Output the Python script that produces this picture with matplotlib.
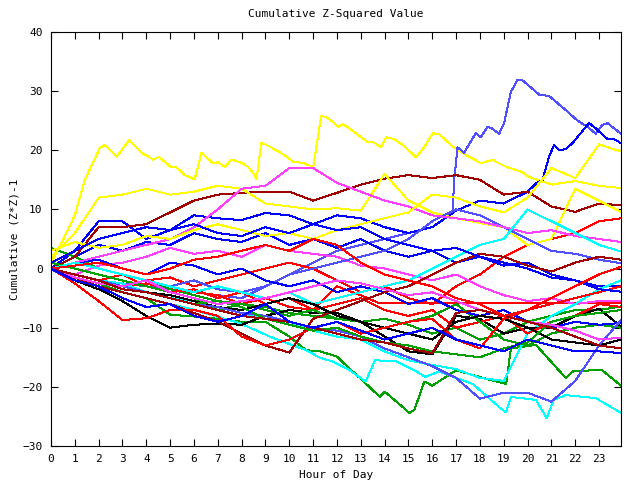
import matplotlib
matplotlib.use("Agg")
import matplotlib.pyplot as plt

# common hourly grid (last sample is 23:55)
hours = [0, 1, 2, 3, 4, 5, 6, 7, 8, 9, 10, 11, 12, 13, 14, 15, 16, 17, 18, 19, 20, 21, 22, 23, 23.92]

# traced lines with their own time stamps
yellow_a_h = [0, 0.5, 1, 1.42, 2.05, 2.26, 2.75, 3.28, 3.8, 4.29, 4.52, 5.05, 5.27, 5.61, 6.03, 6.31, 6.8, 7.0,
              7.29, 7.57, 7.92, 8.27, 8.55, 8.62, 8.83, 9.04, 9.32, 9.8, 10.15, 10.64, 11.0, 11.34, 11.55, 11.83,
              12.04, 12.25, 12.53, 12.88, 13.29, 13.57, 13.85, 14.06, 14.4, 14.76, 15.32, 15.67, 16.02, 16.3,
              16.86, 17.42, 18.04, 18.53, 19.09, 19.72, 20.07, 21.0, 22.0, 23.0, 23.92]
yellow_a_v = [1, 4.8, 9, 15, 20.4, 20.9, 18.9, 21.7, 19.6, 18.4, 18.9, 17.1, 17.1, 15.8, 15.1, 19.6, 17.8, 18,
              17.2, 18.4, 18.0, 17.2, 15.8, 15.1, 21.2, 20.9, 20.3, 19.2, 18.1, 17.8, 17.1, 25.8, 25.6, 24.8,
              24.0, 24.4, 23.7, 22.6, 21.4, 21.3, 20.5, 22.2, 21.9, 20.9, 18.8, 20.6, 22.9, 22.7,
              20.6, 19.2, 17.8, 18.4, 17.2, 16.4, 15.5, 14.2, 14.8, 14.0, 13.6]

lightblue_peak_h = [0, 2, 4, 6, 8, 10, 12, 14, 16, 16.85, 16.92, 17.06, 17.34, 17.83, 18.04, 18.32, 18.5, 18.81,
                    19.02, 19.3, 19.58, 19.8, 20.49, 20.9, 21.6, 22.1, 22.5, 22.86, 23.14, 23.35, 23.92]
lightblue_peak_v = [0, -2, -3, -4, -5, -1, 3, 5, 7, 9.4, 15, 20.5, 19.6, 22.9, 22.2, 24, 23.7, 22.8,
                    24.7, 29.9, 31.9, 31.8, 29.4, 29.2, 26.8, 25, 24, 22.8, 24.3, 24.6, 22.8]

blue_rise_h = [0, 1, 2, 3, 4, 5, 6, 7, 8, 9, 10, 11, 12, 13, 14, 15, 16, 17, 18, 19, 20, 20.35, 20.63, 20.9,
               21.11, 21.33, 21.6, 21.88, 22.58, 22.86, 23.35, 23.63, 23.92]
blue_rise_v = [0, 3, 8, 8, 5, 6.5, 9, 8.5, 8.2, 9.4, 9, 7.5, 9, 8.5, 7, 6, 7, 9.8, 11.5, 11, 13, 14.4, 15, 18.9,
               20.9, 20, 20.2, 21.2, 24.6, 23.7, 21.9, 21.9, 21.2]

green_low_h = [0, 1, 2, 3, 4, 5, 6, 7, 8, 9, 10, 10.7, 11.3, 12, 12.5, 13.2, 13.8, 14, 14.5, 15.04, 15.25, 15.5,
               15.67, 16, 17, 18.4, 19.1, 19.3, 20.35, 21.6, 21.9, 23.1, 23.92]
green_low_v = [0, -1.5, -2.5, -4, -5, -7.8, -8.1, -8.5, -9, -9, -11.5, -13.8, -14, -14.9, -16.8, -19.4, -21.7,
               -20.8, -22.5, -24.4, -23.9, -21, -19.1, -19.8, -17.2, -18.8, -19.5, -13.5, -12.9, -18.5, -17.4,
               -17.1, -19.8]

cyan_low_h = [0, 2, 4, 6, 7.9, 9.3, 10.7, 11.3, 11.8, 12.5, 13.2, 13.6, 14.5, 15.2, 15.7, 16.3, 17, 17.7, 18.8,
              19.1, 19.3, 20.35, 20.8, 21.1, 21.6, 22.86, 23.92]
cyan_low_v = [0, -3, -5, -7, -9.2, -11.7, -13.8, -15.1, -15.7, -17.1, -19.1, -15.5, -15.7, -17.1, -18.3, -17.4,
              -18.5, -19.5, -23.4, -24.3, -21.7, -22.2, -25.3, -22.2, -21.4, -21.9, -24.4]

red_flat_h = [0, 1, 2, 3, 4, 5, 6, 7, 8, 9, 10, 11, 12, 13, 13.8, 23.92]
red_flat_v = [0, -1, -2, -3, -2.5, -3.5, -4, -4.5, -6, -5, -6.5, -7, -3, -4.5, -5.9, -5.9]

# hourly series
yellow_b = [2, 6, 12, 12.5, 13.5, 12.5, 13, 14, 13.5, 11, 10.5, 10, 10.2, 9.8, 16, 11.5, 9.5, 8.5, 7.7, 7, 4, 5, 13.5, 11.5, 9.6]
yellow_c = [3, 4.5, 3.5, 4, 5.5, 5, 6.5, 7.5, 6.5, 5.5, 6, 5, 6.5, 7.5, 8.5, 9.5, 12.5, 12, 10.5, 9.5, 12, 17, 15.3, 21, 19.8]
magenta_a = [0, 1, 2, 3, 4, 5, 7, 10, 13.5, 14, 17, 17, 14.5, 13, 11.5, 10.5, 9, 8.5, 8, 7, 6, 6.5, 5.5, 5, 4.5]
magenta_b = [0, -1, 0.5, 1, 2, 3.5, 2.5, 3, 2, 4, 3, 2.5, 2, 0.5, 0, -1, -2, -1, -3, -4.5, -5.5, -5, -6, -5.5, -5.5]
magenta_c = [0, -1.5, -2.5, -3, -2, -4, -5, -6, -5.5, -5, -4, -3, -2, -2.5, -3.5, -4.5, -4, -5.5, -7, -8, -9, -9.5, -10.5, -12, -11.7]
darkred_a = [0, 2, 7, 7, 7.5, 9.5, 11.5, 12.5, 12.8, 13, 13, 11.5, 12.8, 14.2, 15.2, 15.8, 15.3, 15.8, 15, 12.5, 13, 10.5, 9.6, 11, 10.7]
darkred_b = [0, -1.5, -3, -4, -5, -6, -7.5, -9, -11, -13, -14.2, -8.5, -7, -5.5, -4, -3, -1, 1, 2.5, 2, 0.5, -0.5, 1, 2, 1.5]
darkred_c = [0, -1, -2, -3.5, -4, -5, -6, -7, -8, -8.5, -9, -10, -11, -12, -12.5, -13.5, -14.3, -7.5, -7, -8, -9, -10, -11.5, -13, -13.5]
blue_c = [0, 2, 4, 3, 4.5, 4, 6, 5, 4.5, 6, 4, 5, 3.5, 5, 3, 2, 3, 1, 2, 0.5, 1, -1, -2, -3, -3]
blue_d = [0, 1, 1.5, 0, -1, 1, 0.5, -1, 0, -2, -3, -2, -4, -3, -4, -6, -5, -7, -8, -7, -9, -10, -9, -9.5, -9.2]
blue_e = [1, 3, 5, 6, 7, 6.5, 7.5, 6, 5.5, 7, 6, 7.5, 6.5, 7, 5, 4, 3, 3.5, 2, 1, 0, -1.5, -2, -3.5, -3.9]
blue_f = [0, -2, -3, -5, -6.5, -6, -8, -9, -8, -6, -9, -10, -9, -10.5, -12, -11, -10, -12, -13, -14, -12, -13, -14, -14, -14.3]
lightblue_a = [0, -1, -2, -3, -4, -5, -6, -6.5, -7.5, -8, -9, -10, -10.5, -11.5, -13.5, -15, -16.5, -18.5, -22, -21, -21, -22.5, -19, -13, -8.7]
lightblue_b = [0, 1, 0, -1, -2, -3, -2, -3.5, -4, -3, -1, 0, 1, 2, 3, 5, 8, 10, 9, 7, 5, 3, 2.5, 1.5, 0.9]
cyan_b = [0, -1, -2, -2.5, -4, -5, -5.5, -6.5, -7.5, -8.5, -9, -10.5, -11.5, -12, -14, -15.5, -16.3, -17, -18.5, -19, -11, -8, -6, -3.5, -2]
cyan_c = [0, 1, 0, -1, -2, -3, -4, -3, -4, -5, -4, -6, -5, -4, -3, -2, 0, 2, 4, 5, 10, 8, 6, 4, 2.9]
green_b = [3.5, 2, 0, -1, -2, -3.5, -4.5, -5.5, -6, -6.5, -7.5, -8, -8.5, -9, -8.5, -9.5, -11, -10, -12, -11, -9, -8, -7, -7, -6.4]
green_c = [1, 0, -1, -2, -3, -4, -5, -7, -6, -7, -8, -7, -8.5, -9, -10, -9, -8, -6, -9, -12, -13, -11, -10, -9.5, -10]
green_d = [0, -1, -2, -3.5, -4, -5, -6, -5.5, -6.5, -8.5, -9.5, -10.5, -10, -11.5, -12.5, -13, -14, -14.5, -15, -13.5, -12.5, -9, -8, -7.5, -7]
red_a = [0, 1, 0, -1, -2, -1.5, -3, -2, -1, 0, 1, 0, -2, -4, -3, -5, -6, -3, -1, 2, 4, 5, 6, 8, 8.5]
red_b = [0, -1, -2, -1, -3, -4, -3.5, -5, -4, -6, -5, -7, -6, -5, -7, -8, -7, -10, -9, -8, -11, -9, -8, -6, -6.5]
red_low = [0, -2.5, -5.5, -8.7, -8.4, -7, -7, -8, -11.5, -13, -12, -10, -9, -11, -10, -9, -8.5, -12, -13.5, -8.5, -7, -6, -5, -4, -3]
red_d = [0, 0.5, 1, 0, -1, 0, 1.5, 2, 3, 4, 3, 5, 4, 1, -1, -2, -3, -5, -6, -8, -7, -5, -3, -1, 0.3]
black_a = [0, -2, -3.5, -5.5, -8, -10, -9.5, -9.3, -9.5, -8, -7, -7.5, -7.5, -9, -11.5, -14, -14.5, -8, -8.5, -11, -10, -10, -8, -6.8, -9.8]
black_b = [0, -1, -2, -3, -4, -4.5, -5.5, -6.5, -7, -6, -5, -6, -8, -9, -10, -11, -12, -9, -8, -8.5, -10, -12, -12.5, -13, -12]

RED, GREEN, BLUE, MAG, CYAN = '#ff0000', '#00a000', '#0000ff', '#ff40ff', '#00ffff'
DRED, YEL, BLK, LBLUE = '#a00000', '#ffff00', '#000000', '#5050ff'
LW = 0.72  # one pixel at 100 dpi

fig = plt.figure(figsize=(6.4, 4.8), dpi=100)
ax = fig.add_axes([51/640, 34/480, 570/640, 414/480])

own = [(yellow_a_h, yellow_a_v, YEL), (lightblue_peak_h, lightblue_peak_v, LBLUE),
       (blue_rise_h, blue_rise_v, BLUE), (green_low_h, green_low_v, GREEN),
       (cyan_low_h, cyan_low_v, CYAN), (red_flat_h, red_flat_v, RED)]
hourly = [(red_a, RED), (green_b, GREEN), (blue_c, BLUE), (magenta_b, MAG), (cyan_b, CYAN),
          (darkred_a, DRED), (yellow_b, YEL), (black_a, BLK), (lightblue_b, LBLUE),
          (red_b, RED), (green_c, GREEN), (blue_d, BLUE), (magenta_a, MAG), (cyan_c, CYAN),
          (darkred_b, DRED), (yellow_c, YEL), (black_b, BLK), (lightblue_a, LBLUE),
          (red_low, RED), (green_d, GREEN), (blue_e, BLUE), (magenta_c, MAG),
          (darkred_c, DRED), (red_d, RED), (blue_f, BLUE)]

for xs, ys, c in own:
    ax.plot(xs, ys, color=c, lw=LW, antialiased=False)
for ys, c in hourly:
    ax.plot(hours, ys, color=c, lw=LW, antialiased=False)

ax.set_xlim(0, 23.92)
ax.set_ylim(-30, 40)
ax.set_xticks(range(24))
ax.set_yticks(range(-30, 41, 10))
ax.tick_params(direction='in', top=True, right=True, length=5, width=0.8, labelsize=8, pad=6)
for lab in ax.get_xticklabels() + ax.get_yticklabels():
    lab.set_family('DejaVu Sans Mono')
for s in ax.spines.values():
    s.set_linewidth(0.8)

ax.set_title('Cumulative Z-Squared Value', family='DejaVu Sans Mono', fontsize=8, pad=11)
ax.set_xlabel('Hour of Day', family='DejaVu Sans Mono', fontsize=8, labelpad=4)
ax.set_ylabel('Cumulative (Z*Z)-1', family='DejaVu Sans Mono', fontsize=8, labelpad=2)

fig.savefig('out.png', dpi=100)
